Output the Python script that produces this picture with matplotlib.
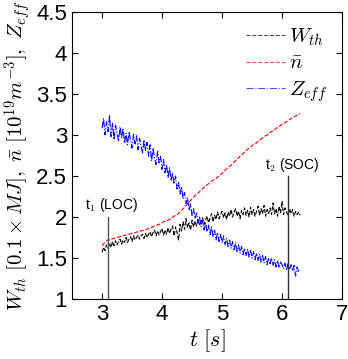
import numpy as np
import matplotlib.pyplot as plt

plt.rcParams['font.family'] = ['Liberation Sans', 'DejaVu Sans']
plt.rcParams['mathtext.fontset'] = 'cm'

# time grids
t_fine = np.linspace(3.0, 6.3, 133)
t_coarse = np.linspace(3.0, 6.3, 67)

# stored energy [0.1 MJ]
w_th = [1.57, 1.63, 1.59, 1.66, 1.62, 1.68, 1.63, 1.70,
        1.65, 1.71, 1.66, 1.70, 1.73, 1.67, 1.72, 1.69,
        1.75, 1.69, 1.73, 1.76, 1.70, 1.77, 1.72, 1.75,
        1.78, 1.73, 1.77, 1.79, 1.74, 1.80, 1.75, 1.79,
        1.82, 1.76, 1.81, 1.84, 1.77, 1.83, 1.78, 1.82,
        1.86, 1.78, 1.84, 1.79, 1.87, 1.80, 1.85, 1.89,
        1.77, 1.88, 1.81, 1.72, 1.91, 1.83, 1.94, 1.85,
        1.98, 1.87, 1.93, 1.84, 1.96, 1.88, 1.95, 1.89,
        1.97, 1.90, 1.94, 1.99, 1.91, 1.96, 2.01, 1.93,
        1.98, 2.04, 1.94, 2.02, 1.97, 2.06, 1.98, 2.03,
        2.07, 1.99, 2.05, 1.97, 2.06, 2.01, 2.09, 2.00,
        2.06, 2.10, 2.01, 2.07, 1.98, 2.08, 2.03, 2.11,
        2.02, 2.08, 2.00, 2.12, 2.03, 2.09, 2.01, 2.07,
        2.13, 2.02, 2.10, 2.04, 2.14, 2.01, 2.09, 2.04,
        2.11, 2.03, 2.17, 2.04, 2.10, 2.01, 2.13, 2.05,
        2.19, 2.03, 2.11, 2.06, 2.02, 2.10, 2.04, 2.09,
        2.01, 2.07, 2.03, 2.06, 2.02]

# effective charge
z_eff = [3.08, 3.20, 3.00, 3.16, 3.04, 3.24, 2.98, 3.14,
         2.94, 3.12, 3.02, 2.92, 3.10, 2.96, 3.08, 2.90,
         3.02, 2.88, 3.04, 2.94, 2.84, 3.01, 2.89, 2.99,
         2.82, 2.96, 2.87, 2.78, 2.94, 2.81, 2.91, 2.74,
         2.88, 2.68, 2.84, 2.72, 2.64, 2.80, 2.66, 2.74,
         2.58, 2.70, 2.54, 2.64, 2.48, 2.60, 2.44, 2.54,
         2.40, 2.50, 2.34, 2.42, 2.28, 2.37, 2.22, 2.30,
         2.16, 2.24, 2.08, 2.16, 2.02, 2.10, 1.98, 2.05,
         1.93, 2.01, 1.88, 1.96, 1.84, 1.93, 1.82, 1.90,
         1.78, 1.88, 1.76, 1.84, 1.72, 1.81, 1.70, 1.79,
         1.68, 1.77, 1.66, 1.74, 1.64, 1.72, 1.62, 1.70,
         1.60, 1.69, 1.58, 1.66, 1.56, 1.64, 1.54, 1.62,
         1.53, 1.61, 1.51, 1.59, 1.50, 1.58, 1.48, 1.56,
         1.47, 1.55, 1.45, 1.53, 1.44, 1.52, 1.42, 1.50,
         1.43, 1.50, 1.41, 1.48, 1.39, 1.47, 1.38, 1.45,
         1.42, 1.37, 1.44, 1.35, 1.43, 1.36, 1.42, 1.34,
         1.41, 1.28, 1.39, 1.33, 1.35]

# line averaged density [1e19 m^-3]
n_bar = [1.65, 1.69, 1.72, 1.73, 1.74, 1.75, 1.76, 1.77, 1.78, 1.79,
         1.80, 1.81, 1.82, 1.83, 1.84, 1.85, 1.87, 1.88, 1.90, 1.91,
         1.93, 1.95, 1.96, 1.98, 2.01, 2.03, 2.06, 2.10, 2.14, 2.18,
         2.22, 2.26, 2.29, 2.33, 2.36, 2.39, 2.42, 2.45, 2.47, 2.50,
         2.53, 2.57, 2.60, 2.63, 2.67, 2.70, 2.74, 2.77, 2.81, 2.84,
         2.87, 2.89, 2.92, 2.95, 2.98, 3.00, 3.03, 3.05, 3.08, 3.10,
         3.13, 3.15, 3.17, 3.20, 3.22, 3.24, 3.26]

# event markers
t_events = [3.1, 6.1]
event_tops = [2.0, 2.5]
event_labels = ['t$_1$ (LOC)', 't$_2$ (SOC)']

fig = plt.figure(figsize=(3.48, 3.59), dpi=100)
ax = fig.add_axes([0.207, 0.167, 0.776, 0.800])

ax.plot(t_fine, w_th, color='black', ls='--', lw=0.8, label='$W_{th}$')
ax.plot(t_coarse, n_bar, color='red', ls='--', lw=0.8, label=r'$\bar{n}$')
ax.plot(t_fine, z_eff, color='blue', ls='-.', lw=0.8, label='$Z_{eff}$')

for te, top, col in zip(t_events, event_tops, ['#555555', '#333333']):
    ax.plot([te, te], [1, top], color=col, lw=1.0)
ax.text(2.72, 2.04, event_labels[0], fontsize=10, va='bottom')
ax.text(5.72, 2.52, event_labels[1], fontsize=10, va='bottom')

ax.set_xlim(2.5, 7)
ax.set_ylim(1, 4.5)
ax.set_xticks([3, 4, 5, 6, 7])
ax.set_yticks([1, 1.5, 2, 2.5, 3, 3.5, 4, 4.5])
ax.set_yticklabels(['1', '1.5', '2', '2.5', '3', '3.5', '4', '4.5'])
ax.tick_params(direction='in', top=True, right=True, labelsize=16, length=4)
ax.set_xlabel('$t\\ [s]$', fontsize=16, labelpad=2)
ax.set_ylabel(r'$W_{th}\ [0.1\times MJ],\ \bar{n}\ [10^{19}m^{-3}],\ Z_{eff}$',
              fontsize=15, labelpad=2)
leg = ax.legend(loc='upper right', frameon=False, fontsize=15, handlelength=1.9,
                handletextpad=0.2, labelspacing=0.3, borderaxespad=0.3)
for line in leg.get_lines():
    line.set_alpha(0.7)

fig.savefig('out.png', dpi=100)
